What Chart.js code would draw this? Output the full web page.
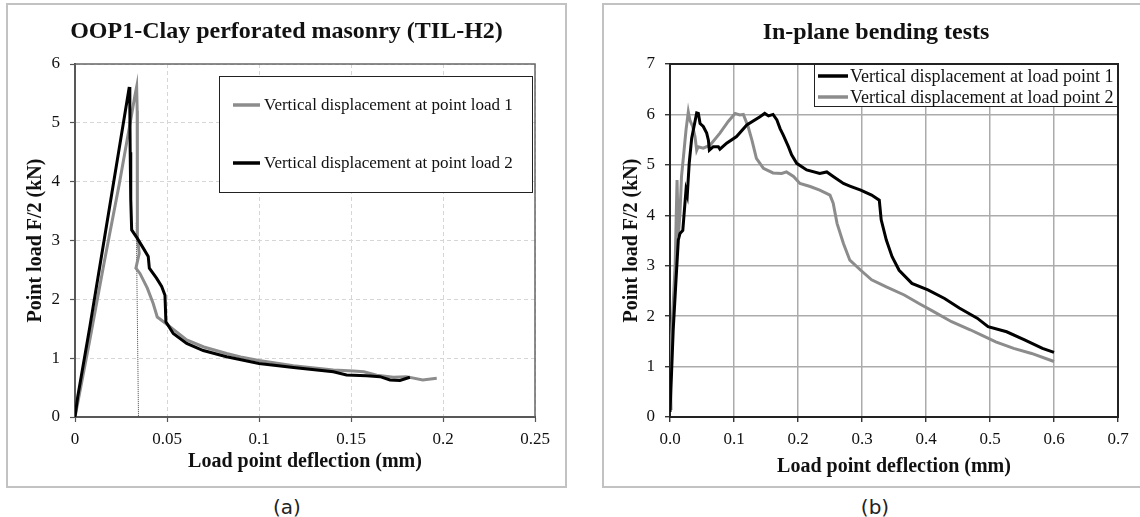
<!DOCTYPE html>
<html>
<head>
<meta charset="utf-8">
<script src="https://cdn.jsdelivr.net/npm/chart.js@4.4.1/dist/chart.umd.min.js"></script>
<style>
  html, body { margin: 0; padding: 0; background: #fff; overflow: hidden; }
  body { width: 1140px; height: 517px; position: relative; }
  .frame { position: absolute; border: 2px solid #c2c2c2; box-sizing: border-box; }
  canvas { position: absolute; }
  .caption { position: absolute; top: 495px; width: 60px; margin-left: -30px; text-align: center;
             font-family: 'DejaVu Sans', Verdana, sans-serif; font-size: 20px; line-height: 24px; color: #222; }
</style>
</head>
<body>
<div class="frame" style="left:6px;top:3px;width:561px;height:485px"></div>
<div class="frame" style="left:602px;top:3px;width:560px;height:485px"></div>
<canvas id="chartA" width="559" height="483" style="left:7px;top:4px"></canvas>
<canvas id="chartB" width="546" height="483" style="left:603px;top:4px"></canvas>
<div class="caption" style="left:287px">(a)</div>
<div class="caption" style="left:875px">(b)</div>
<script>
// (a) OOP1 clay perforated masonry
const aDefl1 = [0, 0.008, 0.016, 0.024, 0.030, 0.0325, 0.0335, 0.0338, 0.0340, 0.0338, 0.0349, 0.0331, 0.0353,
  0.0393, 0.0425, 0.0447, 0.0494, 0.055, 0.0607, 0.070, 0.0824, 0.090, 0.100, 0.1187, 0.1404, 0.1513, 0.157,
  0.164, 0.173, 0.180, 0.189, 0.1966];
const aLoad1 = [0, 1.3, 2.65, 3.95, 5.0, 5.45, 5.61, 5.2, 4.0, 3.06, 2.78, 2.53, 2.44,
  2.19, 1.93, 1.70, 1.59, 1.45, 1.31, 1.19, 1.08, 1.02, 0.96, 0.87, 0.80, 0.78, 0.77,
  0.71, 0.675, 0.686, 0.63, 0.66];
const aDefl2 = [0, 0.0015, 0.008, 0.016, 0.024, 0.0295, 0.0298, 0.0300, 0.0303, 0.0308, 0.0338, 0.0371, 0.0398,
  0.0404, 0.0443, 0.0471, 0.0489, 0.0494, 0.0534, 0.0607, 0.0697, 0.0824, 0.100, 0.1187, 0.1404, 0.1476,
  0.1585, 0.1658, 0.1712, 0.1766, 0.182];
const aLoad2 = [0, 0.35, 1.52, 3.04, 4.56, 5.61, 5.3, 4.5, 3.7, 3.18, 3.04, 2.87, 2.73,
  2.53, 2.36, 2.22, 2.07, 1.62, 1.42, 1.25, 1.13, 1.025, 0.91, 0.84, 0.77, 0.714,
  0.70, 0.686, 0.63, 0.62, 0.675];
const aGuideDefl = [0.0333, 0.0345];
const aGuideLoad = [3.3, 0];
const aXTicks = [0, 0.05, 0.1, 0.15, 0.2, 0.25];
const aYTicks = [0, 1, 2, 3, 4, 5, 6];

// (b) in-plane bending
const bDefl1 = [0, 0.0026, 0.005, 0.0094, 0.013, 0.0156, 0.020, 0.025, 0.027, 0.030, 0.0339, 0.0375, 0.0417,
  0.0443, 0.047, 0.052, 0.0573, 0.060, 0.0615, 0.0677, 0.0755, 0.078, 0.0885, 0.104, 0.12, 0.14, 0.148,
  0.154, 0.161, 0.167, 0.172, 0.177, 0.185, 0.190, 0.198, 0.2135, 0.234, 0.245, 0.255, 0.271, 0.281,
  0.298, 0.315, 0.327, 0.330, 0.338, 0.347, 0.358, 0.378, 0.403, 0.429, 0.452, 0.480, 0.497, 0.526,
  0.554, 0.582, 0.600];
const bLoad1 = [0.1, 0.93, 1.72, 2.72, 3.51, 3.64, 3.7, 4.50, 4.40, 5.03, 5.53, 5.76, 6.03,
  6.02, 5.82, 5.76, 5.63, 5.49, 5.29, 5.36, 5.36, 5.31, 5.43, 5.56, 5.79, 5.95, 6.02,
  5.97, 6.0, 5.89, 5.72, 5.59, 5.36, 5.20, 5.03, 4.90, 4.83, 4.86, 4.77, 4.63, 4.58,
  4.50, 4.40, 4.30, 3.91, 3.51, 3.18, 2.91, 2.65, 2.52, 2.35, 2.16, 1.96, 1.79, 1.69,
  1.53, 1.36, 1.28];
const bDefl2 = [0.0016, 0, 0.004, 0.008, 0.011, 0.013, 0.0156, 0.018, 0.021, 0.025, 0.0286, 0.031, 0.0354, 0.039,
  0.0417, 0.044, 0.052, 0.0625, 0.078, 0.091, 0.1016, 0.109, 0.1146, 0.122, 0.128, 0.135, 0.146,
  0.161, 0.1745, 0.182, 0.193, 0.203, 0.219, 0.234, 0.25, 0.255, 0.261, 0.271, 0.281, 0.298,
  0.315, 0.338, 0.366, 0.389, 0.412, 0.440, 0.469, 0.486, 0.509, 0.537, 0.565, 0.600];
const bLoad2 = [0.14, 1.06, 1.99, 3.0, 4.7, 3.58, 4.04, 4.77, 5.16, 5.69, 6.05, 5.89, 5.76, 5.56,
  5.29, 5.36, 5.33, 5.39, 5.63, 5.86, 6.02, 5.99, 6.0, 5.76, 5.49, 5.13, 4.93,
  4.84, 4.83, 4.86, 4.77, 4.63, 4.57, 4.50, 4.40, 4.24, 3.84, 3.44, 3.11, 2.91,
  2.72, 2.58, 2.42, 2.25, 2.09, 1.89, 1.73, 1.63, 1.49, 1.36, 1.26, 1.10];
const bXTicks = [0, 0.1, 0.2, 0.3, 0.4, 0.5, 0.6, 0.7];
const bYTicks = [0, 1, 2, 3, 4, 5, 6, 7];

const SERIF = "'Liberation Serif', 'Times New Roman', Times, serif";
const GREY = '#8c8c8c';

Chart.defaults.font.family = SERIF;
Chart.defaults.color = '#111';

function pts(xs, ys) {
  return xs.map((x, i) => ({ x: x, y: ys[i] }));
}

// outline around the plot area, drawn under the curves
const plotFrame = {
  id: 'plotFrame',
  beforeDatasetsDraw(chart, args, opts) {
    const { ctx, chartArea: a } = chart;
    ctx.save();
    ctx.strokeStyle = opts.color;
    ctx.lineWidth = opts.width;
    ctx.strokeRect(a.left, a.top, a.right - a.left, a.bottom - a.top);
    ctx.restore();
  }
};

// boxed legend inside the plot
const boxLegend = {
  id: 'boxLegend',
  afterDraw(chart, args, opts) {
    const { ctx } = chart;
    const b = opts.box;
    ctx.save();
    ctx.fillStyle = '#fff';
    ctx.fillRect(b[0], b[1], b[2] - b[0], b[3] - b[1]);
    ctx.strokeStyle = '#222';
    ctx.lineWidth = 1;
    ctx.strokeRect(b[0] + 0.5, b[1] + 0.5, b[2] - b[0], b[3] - b[1]);
    ctx.font = opts.fontSize + 'px ' + SERIF;
    ctx.textBaseline = 'middle';
    ctx.fillStyle = '#111';
    let row = 0;
    chart.data.datasets.forEach(ds => {
      if (ds.noLegend) return;
      const y = opts.rows[row++];
      ctx.strokeStyle = ds.borderColor;
      ctx.lineWidth = 3.5;
      ctx.beginPath();
      ctx.moveTo(opts.line[0], y);
      ctx.lineTo(opts.line[1], y);
      ctx.stroke();
      ctx.fillText(ds.label, opts.textX, y + 1);
    });
    ctx.restore();
  }
};

function axis(ticks, fmt, o) {
  return {
    type: 'linear',
    min: ticks[0],
    max: ticks[ticks.length - 1],
    afterBuildTicks: s => { s.ticks = ticks.map(v => ({ value: v })); },
    afterFit: o.fit,
    ticks: { font: { family: SERIF, size: 17 }, color: '#111', padding: o.tickPad, callback: fmt },
    grid: { color: o.gridColor, lineWidth: o.gridWidth, tickColor: o.tickColor, tickLength: 5, tickWidth: 1.2 },
    border: { color: o.axisColor, width: 2, dash: o.dash },
    title: { display: true, text: o.title, font: { family: SERIF, size: 20, weight: 'bold' }, color: '#111',
      padding: o.titlePad }
  };
}

// empty axis on the right that only reserves the margin beside the plot
function spacer(w) {
  return {
    type: 'linear',
    position: 'right',
    display: true,
    afterFit: s => { s.width = w; },
    ticks: { display: false },
    grid: { display: false, drawTicks: false },
    border: { display: false }
  };
}

new Chart(document.getElementById('chartA'), {
  type: 'scatter',
  data: {
    datasets: [
      { label: 'Vertical displacement at point load 1', data: pts(aDefl1, aLoad1), borderColor: GREY,
        borderWidth: 3, showLine: true, pointRadius: 0, order: 1 },
      { label: 'Vertical displacement at point load 2', data: pts(aDefl2, aLoad2), borderColor: '#000',
        borderWidth: 3, showLine: true, pointRadius: 0, order: 0 },
      { label: '', data: pts(aGuideDefl, aGuideLoad), borderColor: '#444', borderWidth: 1,
        borderDash: [1, 1], showLine: true, pointRadius: 0, noLegend: true, order: 2 }
    ]
  },
  options: {
    responsive: false,
    animation: false,
    layout: { padding: 0 },
    scales: {
      x: axis(aXTicks, v => String(v), {
        fit: s => { s.height = 70; }, tickPad: 7, gridColor: '#d6d6d6', gridWidth: 1, tickColor: '#555',
        axisColor: '#333', dash: [4, 3], title: 'Load point deflection (mm)', titlePad: { top: 0, bottom: 13 }
      }),
      y: axis(aYTicks, v => String(v), {
        fit: s => { s.width = 68; }, tickPad: 10, gridColor: '#d6d6d6', gridWidth: 1, tickColor: '#555',
        axisColor: '#333', dash: [4, 3], title: 'Point load F/2 (kN)', titlePad: { top: 17, bottom: 0 }
      }),
      yPad: spacer(31)
    },
    plugins: {
      legend: { display: false },
      tooltip: { enabled: false },
      title: { display: true, text: 'OOP1-Clay perforated masonry (TIL-H2)', color: '#111',
        font: { family: SERIF, size: 24, weight: 'bold' }, padding: { top: 13.6, bottom: 17.6 } },
      plotFrame: { color: '#666', width: 1.5 },
      boxLegend: { box: [212, 72, 525, 188], rows: [101, 159], line: [226, 253], textX: 257, fontSize: 17 }
    }
  },
  plugins: [plotFrame, boxLegend]
});

new Chart(document.getElementById('chartB'), {
  type: 'scatter',
  data: {
    datasets: [
      { label: 'Vertical displacement at load point 1', data: pts(bDefl1, bLoad1), borderColor: '#000',
        borderWidth: 3, showLine: true, pointRadius: 0, order: 0 },
      { label: 'Vertical displacement at load point 2', data: pts(bDefl2, bLoad2), borderColor: GREY,
        borderWidth: 3, showLine: true, pointRadius: 0, order: 1 }
    ]
  },
  options: {
    responsive: false,
    animation: false,
    layout: { padding: 0 },
    scales: {
      x: axis(bXTicks, v => v.toFixed(1), {
        fit: s => { s.height = 70; }, tickPad: 7, gridColor: '#ababab', gridWidth: 1.5, tickColor: '#111',
        axisColor: '#111', dash: [], title: 'Load point deflection (mm)', titlePad: { top: 0, bottom: 8 }
      }),
      y: axis(bYTicks, v => String(v), {
        fit: s => { s.width = 67; }, tickPad: 10, gridColor: '#ababab', gridWidth: 1.5, tickColor: '#111',
        axisColor: '#111', dash: [], title: 'Point load F/2 (kN)', titlePad: { top: 17, bottom: 0 }
      }),
      yPad: spacer(31)
    },
    plugins: {
      legend: { display: false },
      tooltip: { enabled: false },
      title: { display: true, text: 'In-plane bending tests', color: '#111',
        font: { family: SERIF, size: 24, weight: 'bold' }, padding: { top: 14.6, bottom: 16.6 } },
      plotFrame: { color: '#222', width: 2 },
      boxLegend: { box: [211, 60, 514, 102], rows: [72, 93], line: [215, 245], textX: 247, fontSize: 18 }
    }
  },
  plugins: [plotFrame, boxLegend]
});
</script>
</body>
</html>
